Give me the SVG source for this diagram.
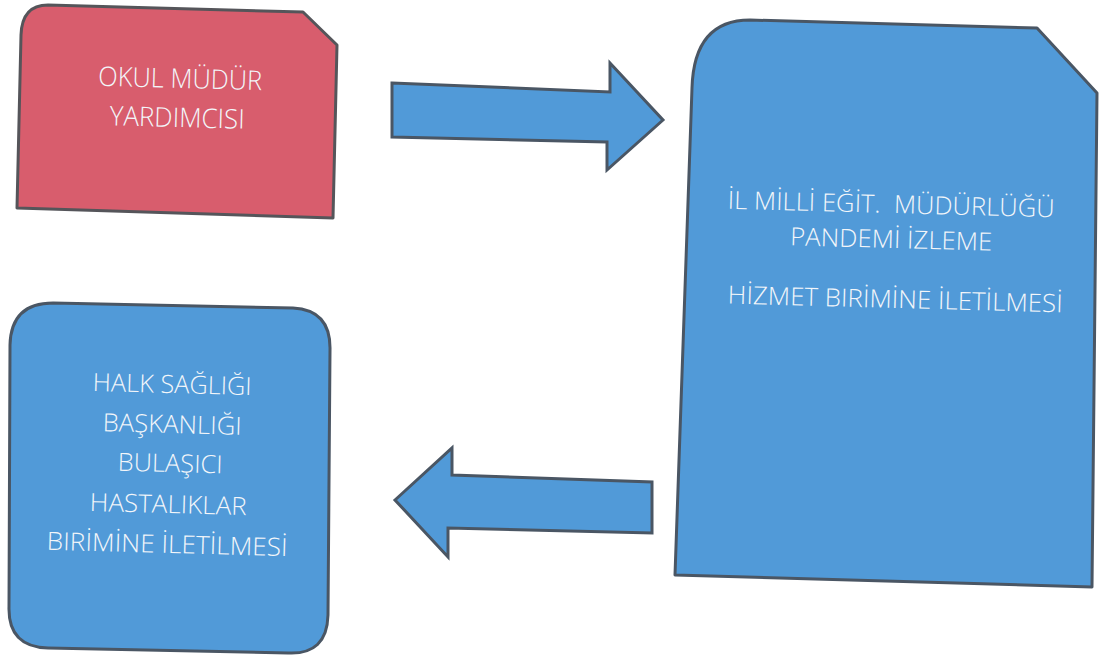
<svg xmlns="http://www.w3.org/2000/svg" width="1100" height="663" viewBox="0 0 1100 663">
<style>
.red{fill:#d85d6d;stroke:#55555a;stroke-width:3;stroke-linejoin:round}
.blue{fill:#519ad8;stroke:#4a5664;stroke-width:3;stroke-linejoin:round}
.arrow{fill:#519ad8;stroke:#4a5664;stroke-width:3;stroke-linejoin:miter}
.t{font-family:"Open Sans","Noto Sans","Liberation Sans",sans-serif;font-size:25px;font-weight:300;fill:#f3f6fa;text-anchor:middle;white-space:pre}
.tr{font-size:27px}
</style>
<rect width="1100" height="663" fill="#ffffff"/>
<g id="okul-mudur-yardimcisi">
<path class="red" d="M 21 35 Q 22 5 48 5 L 303 12 L 337 45 L 333 218 L 17 208 Z"/>
<text class="t tr" x="180" y="88" textLength="164" lengthAdjust="spacingAndGlyphs" transform="rotate(1.5 180 88)">OKUL MÜDÜR</text>
<text class="t tr" x="177" y="127" textLength="135" lengthAdjust="spacingAndGlyphs" transform="rotate(1.5 177 127)">YARDIMCISI</text>
</g>
<g id="il-milli-egitim">
<path class="blue" d="M 692 88 Q 694 20 750 20 L 1037 28 L 1097 93 L 1092 587 L 675 575 Z"/>
<text class="t" x="891" y="213" textLength="327" lengthAdjust="spacingAndGlyphs" transform="rotate(1.5 891 213)" xml:space="preserve">İL MİLLİ EĞİT.  MÜDÜRLÜĞÜ</text>
<text class="t" x="891" y="248" textLength="202" lengthAdjust="spacingAndGlyphs" transform="rotate(1.5 891 248)">PANDEMİ İZLEME</text>
<text class="t" x="895" y="308" textLength="335" lengthAdjust="spacingAndGlyphs" transform="rotate(1.5 895 308)">HİZMET BIRİMİNE İLETİLMESİ</text>
</g>
<g id="halk-sagligi">
<path class="blue" d="M 53 303 L 293 308 Q 331 310 330 350 L 328 615 Q 327 655 288 653 L 48 648 Q 8 647 9 607 L 10 345 Q 11 303 53 303 Z"/>
<text class="t" x="172" y="393" textLength="159" lengthAdjust="spacingAndGlyphs" transform="rotate(1.5 172 393)">HALK SAĞLIĞI</text>
<text class="t" x="172" y="433" textLength="139" lengthAdjust="spacingAndGlyphs" transform="rotate(1.5 172 433)">BAŞKANLIĞI</text>
<text class="t" x="170" y="472" textLength="105" lengthAdjust="spacingAndGlyphs" transform="rotate(1.5 170 472)">BULAŞICI</text>
<text class="t" x="168" y="513" textLength="157" lengthAdjust="spacingAndGlyphs" transform="rotate(1.5 168 513)">HASTALIKLAR</text>
<text class="t" x="167" y="553" textLength="241" lengthAdjust="spacingAndGlyphs" transform="rotate(1.5 167 553)">BIRİMİNE İLETİLMESİ</text>
</g>
<g id="connectors">
<polygon class="arrow" points="392,83 610,92 610,63 663,120 607,170 607,142 392,137"/>
<polygon class="arrow" points="395,500 452,448 452,475 652,482 652,533 448,528 448,557"/>
</g>
</svg>
